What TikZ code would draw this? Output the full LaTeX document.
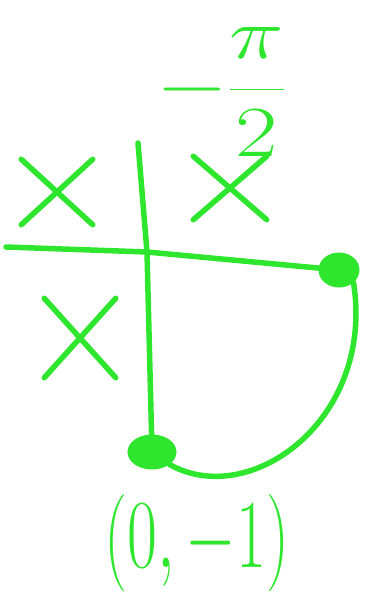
\RequirePackage{fix-cm}
\documentclass[tikz,border=0pt]{standalone}
\usepackage{amsmath}
\usepackage{tikz}
\usetikzlibrary{shapes.geometric, shapes.misc}
\definecolor{chalk}{HTML}{2EE62E}

\begin{document}
\begin{tikzpicture}[
    x=1pt, y=-1pt,
    stroke/.style={draw=chalk, line width=5.5pt, line cap=round, line join=round},
    blob/.style={ellipse, fill=chalk, draw=chalk, line width=3pt, inner sep=0pt},
    quadmark/.style={cross out, draw=chalk, line width=5.5pt, line cap=round, inner sep=0pt},
    sketchtext/.style={text=chalk, inner sep=0pt},
]
\useasboundingbox (0,0) rectangle (372,605);

% === AXES ===
\coordinate (origin) at (147,252);
\coordinate (ytop) at (138,143);
\coordinate (xleft) at (6,247);

\node[blob, minimum width=38pt, minimum height=32pt] (pt-right) at (339,270) {};
\node[blob, minimum width=46pt, minimum height=32pt] (pt-bottom) at (152,452) {};

\draw[stroke] (ytop) -- (origin) -- (pt-bottom);
\draw[stroke] (xleft) -- (origin) -- (pt-right);

% === ARC ===
\draw[stroke] (pt-right.south east) .. controls (375,420) and (250,510) .. (pt-bottom.south east);

% === MARKS ===
\node[quadmark, minimum width=66pt, minimum height=60pt] (mark-ul) at (57,192) {};
\node[quadmark, minimum width=68pt, minimum height=58pt] (mark-ur) at (230,188) {};
\node[quadmark, minimum width=66pt, minimum height=74pt] (mark-ll) at (80,338) {};

% === LABELS ===
\node[sketchtext, font=\fontsize{72}{72}\selectfont] (angle) at (221,92)
    {\scalebox{1.28}[1]{$\displaystyle -\frac{\pi}{2}$}};
\node[sketchtext, font=\fontsize{65}{65}\selectfont] (point) at (197,543)
    {\scalebox{1}[1.5]{$(0,-1)$}};

\end{tikzpicture}
\end{document}
